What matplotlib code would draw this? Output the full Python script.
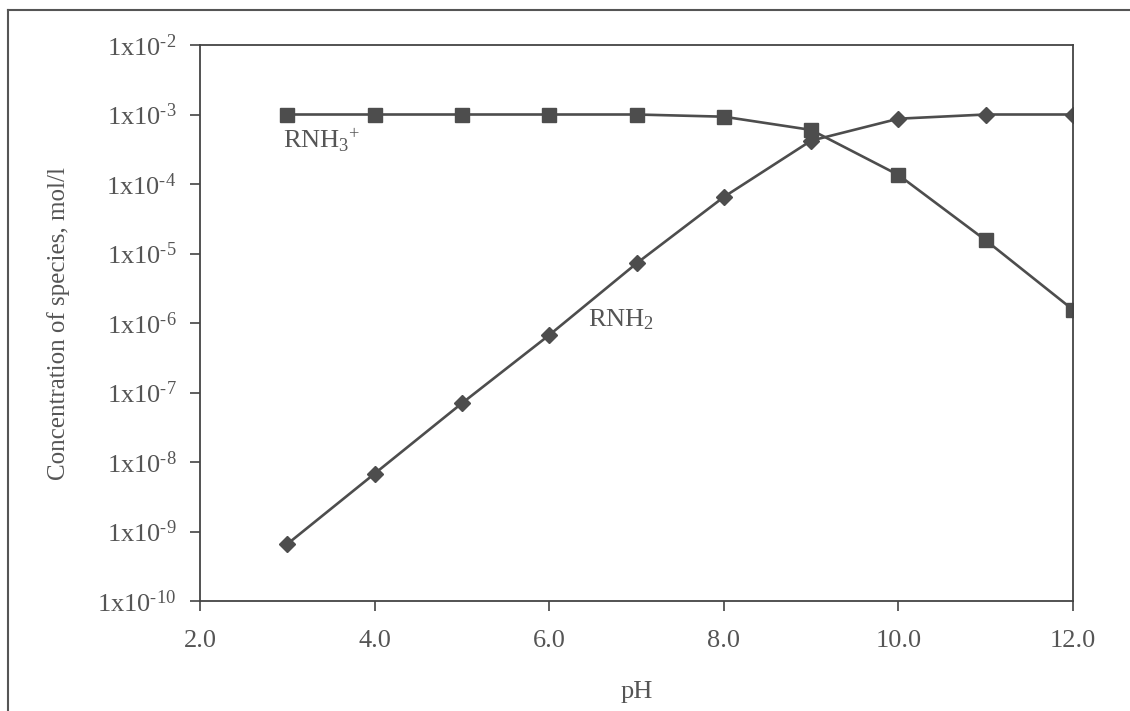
import numpy as np
import matplotlib.pyplot as plt
import matplotlib.ticker as mticker

# values
ph = [3, 4, 5, 6, 7, 8, 9, 10, 11, 12]
rnh3 = [1.0e-3, 1.0e-3, 1.0e-3, 1.0e-3, 1.0e-3, 9.3e-4, 6.0e-4, 1.35e-4, 1.55e-5, 1.55e-6]
rnh2 = [6.6e-10, 6.8e-9, 7.0e-8, 6.7e-7, 7.2e-6, 6.5e-5, 4.2e-4, 8.7e-4, 1.0e-3, 1.0e-3]
xticks = [2.0, 4.0, 6.0, 8.0, 10.0, 12.0]
yexp = [-2, -3, -4, -5, -6, -7, -8, -9, -10]

plt.rcParams['font.family'] = ['Liberation Serif', 'DejaVu Serif']
plt.rcParams['mathtext.fontset'] = 'custom'
plt.rcParams['mathtext.rm'] = 'Liberation Serif'
plt.rcParams['mathtext.it'] = 'Liberation Serif:italic'
plt.rcParams['mathtext.bf'] = 'Liberation Serif:bold'
plt.rcParams['mathtext.default'] = 'rm'
grey = '#4d4d4d'
txt = '#555555'

fig = plt.figure(figsize=(11.3, 7.11), dpi=100)
ax = fig.add_axes([200/1130, 1 - 601/711, 873/1130, 556/711])

ax.plot(ph, rnh3, color=grey, lw=1.9, marker='s', ms=9.5, mfc=grey, mec=grey)
ax.plot(ph, rnh2, color=grey, lw=1.9, marker='D', ms=8, mfc=grey, mec=grey)

ax.set_yscale('log')
ax.set_xlim(2, 12)
ax.set_ylim(1e-10, 1e-2)
ax.set_xticks(xticks)
ax.set_xticklabels(['%.1f' % t for t in xticks])
ax.set_yticks([10.0**e for e in yexp])
# short hyphen in the exponent, like the original print
ax.set_yticklabels(['1x10$^{\u2010%d}$' % (-e) for e in yexp])
ax.yaxis.set_minor_locator(mticker.NullLocator())
ax.tick_params(axis='both', direction='out', length=7, width=1.2, colors='#444444',
               labelsize=19, labelcolor=txt)
ax.tick_params(axis='x', pad=14)
ax.tick_params(axis='y', pad=10)
for s in ax.spines.values():
    s.set_color('#444444')
    s.set_linewidth(1.3)

ax.set_xlabel('pH', fontsize=19, color=txt, labelpad=21)
ax.set_ylabel('Concentration of species, mol/l', fontsize=18, color=txt, labelpad=20)

ax.text(2.95, 4.3e-4, 'RNH$_3$$^{+}$', fontsize=19, color=txt, ha='left', va='center')
ax.text(6.45, 1.1e-6, 'RNH$_2$', fontsize=19, color=txt, ha='left', va='center')

# page frame from the scan
fig.add_artist(plt.Line2D([8/1130, 8/1130], [0, 1 - 10/711], transform=fig.transFigure,
                          color='#555555', lw=1.5))
fig.add_artist(plt.Line2D([8/1130, 1], [1 - 10/711, 1 - 10/711], transform=fig.transFigure,
                          color='#555555', lw=1.5))

fig.savefig('out.png', dpi=100)
